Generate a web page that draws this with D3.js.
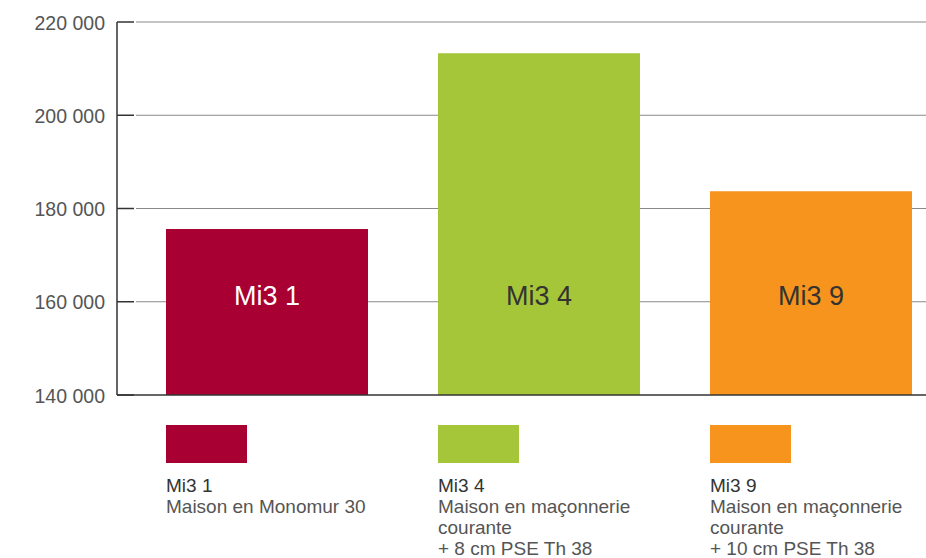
<!DOCTYPE html>
<html>
<head>
<meta charset="utf-8">
<script src="https://cdn.jsdelivr.net/npm/d3@7"></script>
<style>
  body { margin: 0; background: #fff; }
  svg { display: block; font-family: "Liberation Sans", "DejaVu Sans", sans-serif; }
</style>
</head>
<body>
<div id="chart"></div>
<script>
'use strict';

const codes = ['Mi3 1', 'Mi3 4', 'Mi3 9'];
const values = [175600, 213300, 183700];
const colors = ['#a80032', '#a6c63a', '#f7941e'];
const labelColors = ['#ffffff', '#333333', '#333333'];
const descriptions = [
    ['Maison en Monomur 30'],
    ['Maison en maçonnerie', 'courante', '+ 8 cm PSE Th 38'],
    ['Maison en maçonnerie', 'courante', '+ 10 cm PSE Th 38']
];
const yTicks = [140000, 160000, 180000, 200000, 220000];

(function() {
    let width = 926, height = 558;
    let axisX = 117, plotRight = 926;
    let plotTop = 22, plotBottom = 395;

    let svg = d3.select('#chart').append('svg')
        .attr('width', width)
        .attr('height', height);

    let y = d3.scaleLinear().domain([140000, 220000]).range([plotBottom, plotTop]);
    let x = d3.scaleBand().domain(codes).range([166, 912]).paddingInner(70 / 272).paddingOuter(0);

    let fmt = d3.formatLocale({decimal: ',', thousands: ' ', grouping: [3], currency: ['', '']}).format(',d');

    // gridlines
    svg.append('g').selectAll('line')
        .data(yTicks.slice(1))
        .enter().append('line')
        .attr('x1', axisX + 19).attr('x2', plotRight)
        .attr('y1', d => y(d)).attr('y2', d => y(d))
        .attr('stroke', '#8a8a8a').attr('stroke-width', 1);

    // bars
    svg.append('g').selectAll('rect')
        .data(codes)
        .enter().append('rect')
        .attr('x', d => x(d))
        .attr('y', (d, i) => y(values[i]))
        .attr('width', x.bandwidth())
        .attr('height', (d, i) => plotBottom - y(values[i]))
        .attr('fill', (d, i) => colors[i]);

    svg.append('g').selectAll('text')
        .data(codes)
        .enter().append('text')
        .attr('x', d => x(d) + x.bandwidth() / 2)
        .attr('y', y(160000) - 6)
        .attr('dy', '0.35em')
        .attr('text-anchor', 'middle')
        .attr('font-size', 27)
        .attr('fill', (d, i) => labelColors[i])
        .text(d => d);

    // y axis
    let yAxis = d3.axisLeft(y).tickValues(yTicks).tickSize(0).tickPadding(12).tickFormat(fmt);
    let ga = svg.append('g').attr('transform', 'translate(' + axisX + ',0)').call(yAxis);
    ga.select('.domain').remove();
    ga.attr('font-family', null).attr('font-size', 19.5);
    ga.selectAll('text').attr('fill', '#555').attr('dy', '0.36em');

    svg.append('g').selectAll('line')
        .data(yTicks)
        .enter().append('line')
        .attr('x1', axisX).attr('x2', axisX + 17)
        .attr('y1', d => y(d)).attr('y2', d => y(d))
        .attr('stroke', '#333').attr('stroke-width', 1.5);

    svg.append('line')
        .attr('x1', axisX).attr('x2', axisX)
        .attr('y1', y(220000)).attr('y2', plotBottom)
        .attr('stroke', '#333').attr('stroke-width', 1.5);
    svg.append('line')
        .attr('x1', axisX).attr('x2', plotRight)
        .attr('y1', plotBottom).attr('y2', plotBottom)
        .attr('stroke', '#333').attr('stroke-width', 1.5);

    // legend
    let legend = svg.append('g').selectAll('g')
        .data(codes)
        .enter().append('g')
        .attr('transform', d => 'translate(' + x(d) + ',0)');

    legend.append('rect')
        .attr('x', 0).attr('y', 425)
        .attr('width', 81).attr('height', 38)
        .attr('fill', (d, i) => colors[i]);

    legend.append('text')
        .attr('x', 0).attr('y', 492)
        .attr('font-size', 19)
        .attr('fill', '#333')
        .text(d => d);

    legend.each(function(d, i) {
        d3.select(this).selectAll('text.desc')
            .data(descriptions[i])
            .enter().append('text')
            .attr('class', 'desc')
            .attr('x', 0)
            .attr('y', (t, j) => 513 + j * 21)
            .attr('font-size', 19)
            .attr('fill', '#555')
            .text(t => t);
    });
})();
</script>
</body>
</html>
